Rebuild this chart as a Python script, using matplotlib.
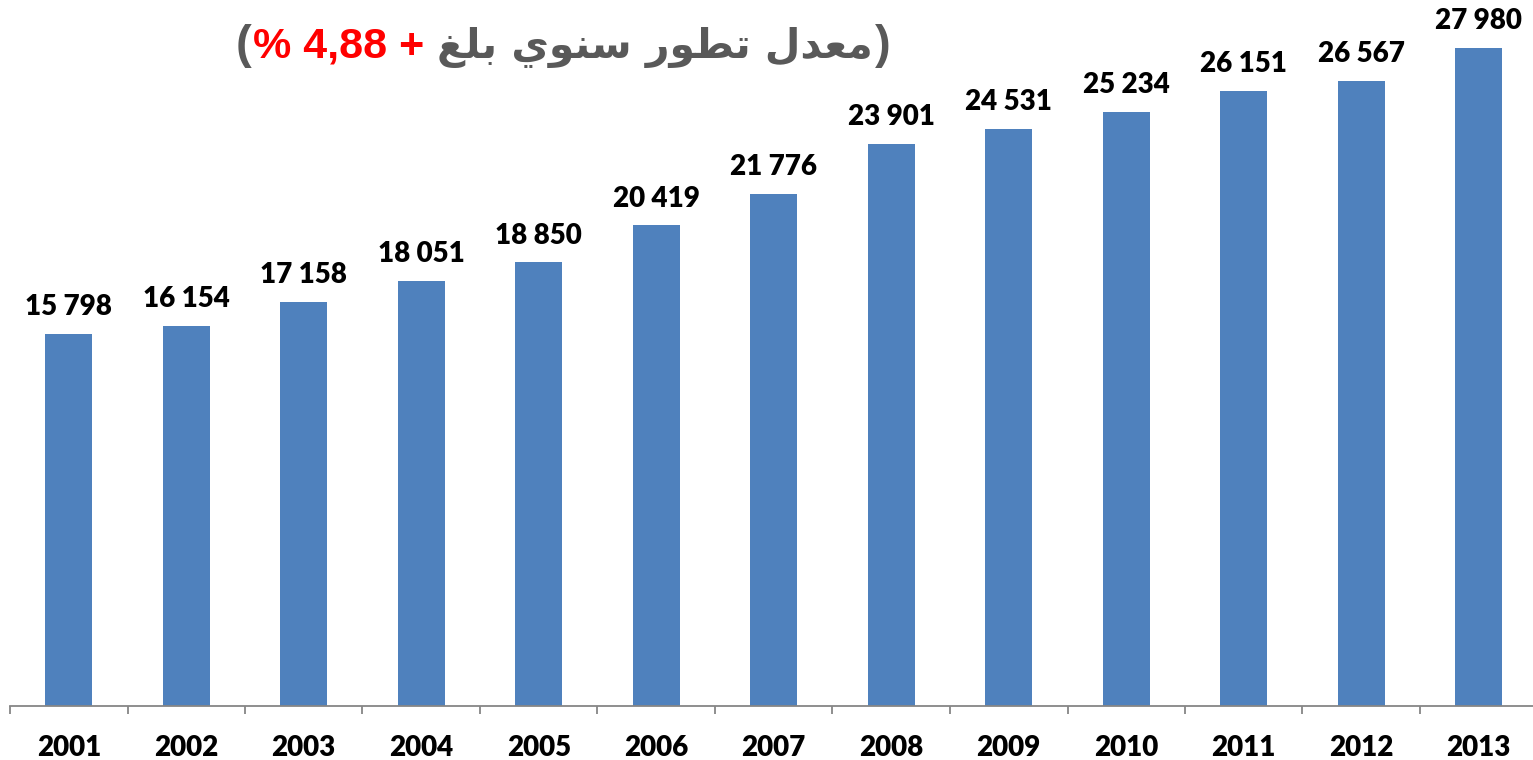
import numpy as np
import matplotlib
matplotlib.use("Agg")
import matplotlib.pyplot as plt
from matplotlib.offsetbox import TextArea, HPacker, AnchoredOffsetbox

years = ["2001", "2002", "2003", "2004", "2005", "2006", "2007",
         "2008", "2009", "2010", "2011", "2012", "2013"]
values = [15798, 16154, 17158, 18051, 18850, 20419, 21776,
          23901, 24531, 25234, 26151, 26567, 27980]
title_ar = "معدل تطور سنوي بلغ"
title_rate = "% 4,88 + "

BAR = "#4F81BD"
GREY = "#595959"

# minimal arabic shaping (matplotlib has no bidi / joining)
FORMS = {
    "م": (0xFEE1, 0xFEE2, 0xFEE3, 0xFEE4), "ع": (0xFEC9, 0xFECA, 0xFECB, 0xFECC),
    "ل": (0xFEDD, 0xFEDE, 0xFEDF, 0xFEE0), "ت": (0xFE95, 0xFE96, 0xFE97, 0xFE98),
    "ط": (0xFEC1, 0xFEC2, 0xFEC3, 0xFEC4), "س": (0xFEB1, 0xFEB2, 0xFEB3, 0xFEB4),
    "ن": (0xFEE5, 0xFEE6, 0xFEE7, 0xFEE8), "ي": (0xFEF1, 0xFEF2, 0xFEF3, 0xFEF4),
    "ب": (0xFE8F, 0xFE90, 0xFE91, 0xFE92), "غ": (0xFECD, 0xFECE, 0xFECF, 0xFED0),
    "د": (0xFEA9, 0xFEAA), "و": (0xFEED, 0xFEEE), "ر": (0xFEAD, 0xFEAE),
}


def shape_word(w):
    out = []
    for i, c in enumerate(w):
        f = FORMS[c]
        prev = i > 0 and len(FORMS[w[i - 1]]) == 4
        nxt = i < len(w) - 1 and len(f) == 4
        if prev and nxt:
            k = 3
        elif nxt:
            k = 2
        elif prev:
            k = 1
        else:
            k = 0
        out.append(chr(f[k]))
    return "".join(out[::-1])


def visual_ar(s):
    return " ".join(shape_word(w) for w in s.split(" ")[::-1])


plt.rcParams["font.family"] = ["Lato", "DejaVu Sans"]

fig = plt.figure(figsize=(15.33, 7.6), dpi=100)
ax = fig.add_axes([10 / 1533, 54 / 760, 1527.5 / 1533, 706 / 760])

x = np.arange(len(years))
bars = ax.bar(x, values, width=0.4, color=BAR, zorder=2)
for xi, v in zip(x, values):
    lab = f"{v:,}".replace(",", " ")
    ax.annotate(lab, (xi, v), xytext=(0, 13.5), textcoords="offset points",
                ha="center", va="baseline", fontsize=20, fontweight="heavy",
                color="black")

ax.set_xlim(-0.5, len(years) - 0.5)
ax.set_ylim(0, 30000)
for s in ["left", "top", "right"]:
    ax.spines[s].set_visible(False)
ax.spines["bottom"].set_color("#868686")
ax.spines["bottom"].set_linewidth(1.3)
ax.set_yticks([])
ax.set_xticks(x)
ax.set_xticklabels(years, fontsize=20, fontweight="heavy")
ax.tick_params(axis="x", which="major", length=0, pad=21)
ax.set_xticks(np.arange(len(years) + 1) - 0.5, minor=True)
ax.tick_params(axis="x", which="minor", length=6, width=1.3, color="#868686")

# title: grey arabic text, red rate, grey parentheses
parts = [
    TextArea("(", textprops=dict(color=GREY, family="Liberation Sans",
                                 fontsize=34, fontweight="bold")),
    TextArea(title_rate, textprops=dict(color="#FF0000", family="Liberation Sans",
                                        fontsize=31, fontweight="bold")),
    TextArea(visual_ar(title_ar), textprops=dict(color=GREY, family="DejaVu Sans",
                                                 fontsize=29.5, fontweight="bold")),
    TextArea(")", textprops=dict(color=GREY, family="Liberation Sans",
                                 fontsize=34, fontweight="bold")),
]
box = HPacker(children=parts, align="baseline", pad=0, sep=1)
anc = AnchoredOffsetbox(loc="center", child=box, frameon=False,
                        bbox_to_anchor=(563 / 1533, 1 - 46 / 760),
                        bbox_transform=fig.transFigure, borderpad=0)
fig.add_artist(anc)

fig.savefig("out.png", dpi=100)
